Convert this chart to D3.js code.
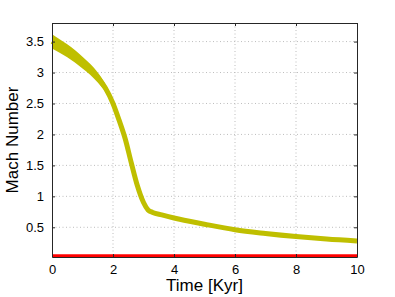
<!DOCTYPE html>
<html>
<head>
<meta charset="utf-8">
<script src="https://cdn.jsdelivr.net/npm/d3@7"></script>
<style>
  body { margin: 0; background: #fff; }
  svg { display: block; font-family: "Liberation Sans", Arial, sans-serif; }
</style>
</head>
<body>
<div id="vis"></div>
<script>
// Mach number of the shocked gas vs time (band = spread of many tracks)
const timeKyr = [0, 0.5, 1.0, 1.5, 1.75, 2.0, 2.2, 2.4, 2.6, 2.8, 3.0, 3.15, 3.3, 3.6, 4.0, 5.0, 6.0, 7.0, 8.0, 9.0, 10];
const machUpper = [3.62, 3.455, 3.255, 3.00, 2.815, 2.545, 2.25, 1.93, 1.54, 1.17, 0.90, 0.78, 0.74, 0.70, 0.65, 0.55, 0.46, 0.40, 0.35, 0.31, 0.28];
const machLower = [3.39, 3.245, 3.065, 2.84, 2.685, 2.455, 2.21, 1.93, 1.54, 1.17, 0.90, 0.78, 0.74, 0.70, 0.65, 0.55, 0.46, 0.40, 0.35, 0.31, 0.28];

// flat red track near zero
const ambientTime = [0, 10];
const ambientMach = [0.04, 0.04];

const xTicks = [0, 2, 4, 6, 8, 10];
const yTicks = [0.5, 1, 1.5, 2, 2.5, 3, 3.5];

const svg = d3.select("#vis").append("svg")
  .attr("width", 395)
  .attr("height", 297);

const margin = { top: 23, right: 38, bottom: 40, left: 52 };
const width = 395 - margin.left - margin.right;
const height = 297 - margin.top - margin.bottom;

const g = svg.append("g")
  .attr("transform", `translate(${margin.left},${margin.top})`);

const x = d3.scaleLinear().domain([0, 10]).range([0, width]);
const y = d3.scaleLinear().domain([0.02, 3.8]).range([height, 0]);

// dotted grid
g.append("g").selectAll("line")
  .data(xTicks.slice(1, -1))
  .join("line")
  .attr("x1", d => x(d)).attr("x2", d => x(d))
  .attr("y1", 0).attr("y2", height)
  .attr("stroke", "#bdbdbd")
  .attr("stroke-dasharray", "1,2.5");

g.append("g").selectAll("line")
  .data(yTicks)
  .join("line")
  .attr("x1", 0).attr("x2", width)
  .attr("y1", d => y(d)).attr("y2", d => y(d))
  .attr("stroke", "#bdbdbd")
  .attr("stroke-dasharray", "1,2.5");

const band = timeKyr.map((t, i) => ({ t, hi: machUpper[i], lo: machLower[i] }));

g.append("path")
  .datum(band)
  .attr("fill", "#bfbf00")
  .attr("d", d3.area()
    .x(d => x(d.t))
    .y0(d => y(d.lo))
    .y1(d => y(d.hi))
    .curve(d3.curveMonotoneX));

g.append("path")
  .datum(band)
  .attr("fill", "none")
  .attr("stroke", "#bfbf00")
  .attr("stroke-width", 5)
  .attr("d", d3.line()
    .x(d => x(d.t))
    .y(d => y((d.hi + d.lo) / 2))
    .curve(d3.curveMonotoneX));

g.append("path")
  .datum(ambientTime.map((t, i) => ({ t, m: ambientMach[i] })))
  .attr("fill", "none")
  .attr("stroke", "#ff0000")
  .attr("stroke-width", 3)
  .attr("d", d3.line().x(d => x(d.t)).y(d => y(d.m)));

// axes, Matlab style: ticks inside on all four sides
const tickLen = 3;
const axisBottom = g.append("g")
  .attr("transform", `translate(0,${height})`)
  .call(d3.axisBottom(x).tickValues(xTicks).tickSizeInner(-tickLen).tickSizeOuter(0).tickPadding(8));
const axisLeft = g.append("g")
  .call(d3.axisLeft(y).tickValues(yTicks).tickFormat(d3.format("")).tickSizeInner(-tickLen).tickSizeOuter(0).tickPadding(8));
const axisTop = g.append("g")
  .call(d3.axisTop(x).tickValues(xTicks).tickSizeInner(-tickLen).tickSizeOuter(0).tickFormat(""));
const axisRight = g.append("g")
  .attr("transform", `translate(${width},0)`)
  .call(d3.axisRight(y).tickValues(yTicks).tickSizeInner(-tickLen).tickSizeOuter(0).tickFormat(""));

[axisBottom, axisLeft, axisTop, axisRight].forEach(a => {
  a.select(".domain").attr("stroke", "#262626");
  a.selectAll(".tick line").attr("stroke", "#262626");
  a.selectAll("text")
    .attr("fill", "#000")
    .style("font-family", "'Liberation Sans', Arial, sans-serif")
    .style("font-size", "13px");
});

// Axis labels
g.append("text")
  .attr("x", width / 2)
  .attr("y", height + 34)
  .attr("text-anchor", "middle")
  .attr("font-size", "17px")
  .text("Time [Kyr]");

g.append("text")
  .attr("transform", "rotate(-90)")
  .attr("x", -height / 2)
  .attr("y", -34)
  .attr("text-anchor", "middle")
  .attr("font-size", "17px")
  .text("Mach Number");
</script>
</body>
</html>
